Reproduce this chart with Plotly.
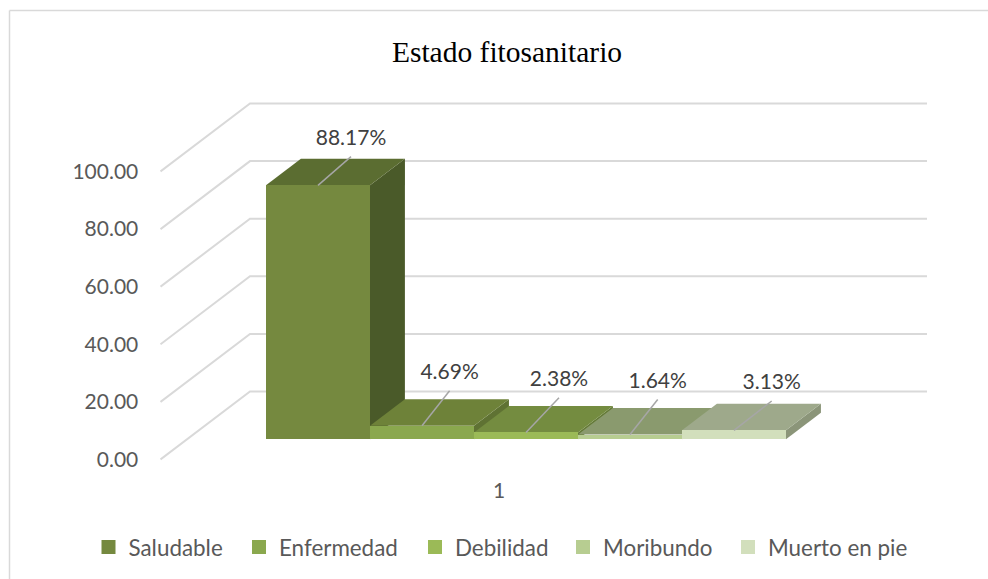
import plotly.graph_objects as go

# ---- data ----
title = "Estado fitosanitario"
series_names = ["Saludable", "Enfermedad", "Debilidad", "Moribundo", "Muerto en pie"]
values = [88.17, 4.69, 2.38, 1.64, 3.13]
y_ticks = [0, 20, 40, 60, 80, 100]
category_labels = ["1"]

# ---- styles ----
front_colors = ["#75893f", "#8aa84e", "#9bba57", "#b7cd91", "#d2dfbc"]
top_colors = ["#5b6d31", "#6e8239", "#748c40", "#8a9a6e", "#9ea98b"]
side_colors = ["#4a5a29", "#5f7233", "#647a37", "#7d8c63", "#8b9579"]
GRID = "#d9d9d9"
TEXT = "#595959"

# ---- oblique-projection layout (1 x unit = one bar width) ----
W, H = 988, 579
ML, MR, MT, MB = 160, 0, 90, 109
PW, PH = W - ML - MR, H - MT - MB
BAR_PX = 104.0
PX_PER_VAL = 2.88
X0_PX = 266.0
Y0_PX = 459.5
WALL_DX = 89.5 / BAR_PX
WALL_DY = 68.0 / PX_PER_VAL
D_FRONT, D_BACK = 0.297, 0.687
WALL_LEFT = (160.5 - X0_PX) / BAR_PX
WALL_RIGHT_BACK = (927.0 - X0_PX) / BAR_PX
xr = [(ML - X0_PX) / BAR_PX, (W - MR - X0_PX) / BAR_PX]
yr = [(Y0_PX - (H - MB)) / PX_PER_VAL, (Y0_PX - MT) / PX_PER_VAL]
base = D_FRONT * WALL_DY
dep_x = (D_BACK - D_FRONT) * WALL_DX
dep_y = (D_BACK - D_FRONT) * WALL_DY


def pxx(p):
    return (p - ML) / PW


def pxy(p):
    return (H - MB - p) / PH


# leader-line ends relative to bar top centre (px)
leader_dx = [33, 27.6, 33, 27.7, 37.7]
leader_dy = [28.7, 35, 34.7, 35, 29.3]
LABEL_LIFT = 6.5
legend_left_px = [97.5, 248, 424, 572, 737]

fig = go.Figure()

# walls
gx, gy = [], []
for t in y_ticks:
    gx += [WALL_LEFT, WALL_LEFT + WALL_DX, WALL_RIGHT_BACK, None]
    gy += [t, t + WALL_DY, t + WALL_DY, None]
fig.add_trace(go.Scatter(x=gx, y=gy, mode="lines", line=dict(color=GRID, width=2),
                         showlegend=False, hoverinfo="skip", zorder=0))

# front faces
for i, (n, v) in enumerate(zip(series_names, values)):
    fig.add_trace(go.Bar(x=[i + 0.5], y=[v], base=[base], width=1.0, name=n,
                         marker=dict(color=front_colors[i], line=dict(width=0)),
                         showlegend=False, hoverinfo="skip", zorder=30))

# legend entries (a 2 px outline brings the swatch to the reference size)
for i, n in enumerate(series_names):
    fig.add_trace(go.Bar(x=[None], y=[None], name=n, showlegend=True,
                         legend="legend" if i == 0 else f"legend{i + 1}",
                         marker=dict(color=front_colors[i],
                                     line=dict(width=2, color=front_colors[i])),
                         hoverinfo="skip"))

# tops and sides
for i, v in enumerate(values):
    xl, xr_ = float(i), float(i + 1)
    yt = base + v
    fig.add_trace(go.Scatter(
        x=[xr_, xr_ + dep_x, xr_ + dep_x, xr_, xr_],
        y=[base, base + dep_y, yt + dep_y, yt, base],
        mode="lines", fill="toself", fillcolor=side_colors[i], line=dict(width=0),
        showlegend=False, hoverinfo="skip", zorder=1 + 2 * i))
    fig.add_trace(go.Scatter(
        x=[xl, xr_, xr_ + dep_x, xl + dep_x, xl],
        y=[yt, yt, yt + dep_y, yt + dep_y, yt],
        mode="lines", fill="toself", fillcolor=top_colors[i], line=dict(width=0),
        showlegend=False, hoverinfo="skip", zorder=2 + 2 * i))

# data labels with leader lines
lx, ly, tx, ty, tt = [], [], [], [], []
for i, v in enumerate(values):
    x0, y0 = i + 0.5, base + v
    x1, y1 = x0 + leader_dx[i] / BAR_PX, y0 + leader_dy[i] / PX_PER_VAL
    lx += [x0, x1, None]
    ly += [y0, y1, None]
    tx.append(x1)
    ty.append(y1 + LABEL_LIFT / PX_PER_VAL)
    tt.append(f"{v:.2f}%")
fig.add_trace(go.Scatter(x=lx, y=ly, mode="lines", line=dict(color="#a6a6a6", width=1.5),
                         showlegend=False, hoverinfo="skip", zorder=40))
fig.add_trace(go.Scatter(x=tx, y=ty, mode="text", text=tt, textposition="top center",
                         textfont=dict(family="Lato", size=21, color="#404040"),
                         showlegend=False, hoverinfo="skip", zorder=41, cliponaxis=False))

floor_mid = (WALL_LEFT + WALL_RIGHT_BACK - WALL_DX) / 2

legends = {}
for i, left in enumerate(legend_left_px):
    legends["legend" if i == 0 else f"legend{i + 1}"] = dict(
        orientation="h", x=pxx(left), xanchor="left", y=pxy(547.5), yanchor="middle",
        indentation=-9, font=dict(family="Lato", size=22.4, color=TEXT),
        bgcolor="rgba(0,0,0,0)")

fig.update_layout(
    width=W, height=H, margin=dict(l=ML, r=MR, t=MT, b=MB, pad=0),
    paper_bgcolor="white", plot_bgcolor="white",
    barmode="overlay", bargap=0,
    title=dict(text=title, x=507 / W, xanchor="center", y=1 - 52 / H, yanchor="middle",
               font=dict(family="Liberation Serif", size=29.5, color="#000000")),
    xaxis=dict(range=xr, tickmode="array", tickvals=[floor_mid], ticktext=category_labels,
               showgrid=False, zeroline=False, showline=False,
               ticks="outside", ticklen=2, tickcolor="rgba(0,0,0,0)",
               tickfont=dict(family="Lato", size=21, color=TEXT)),
    yaxis=dict(range=yr, tickmode="array", tickvals=y_ticks, tickformat=".2f",
               showgrid=False, zeroline=False, showline=False,
               ticks="outside", ticklen=16.5, tickcolor="rgba(0,0,0,0)",
               tickfont=dict(family="Lato", size=21, color=TEXT)),
    shapes=[dict(type="line", xref="paper", yref="paper", layer="below",
                 x0=pxx(9.5), x1=pxx(9.5), y0=pxy(H), y1=pxy(10.5),
                 line=dict(color="#d9d9d9", width=1.5)),
            dict(type="line", xref="paper", yref="paper", layer="below",
                 x0=pxx(9.5), x1=pxx(W), y0=pxy(10.5), y1=pxy(10.5),
                 line=dict(color="#d9d9d9", width=1.5))],
    **legends,
)
fig.write_html("out.html", config={"displayModeBar": False},
               post_script="document.body.style.margin='0';")
